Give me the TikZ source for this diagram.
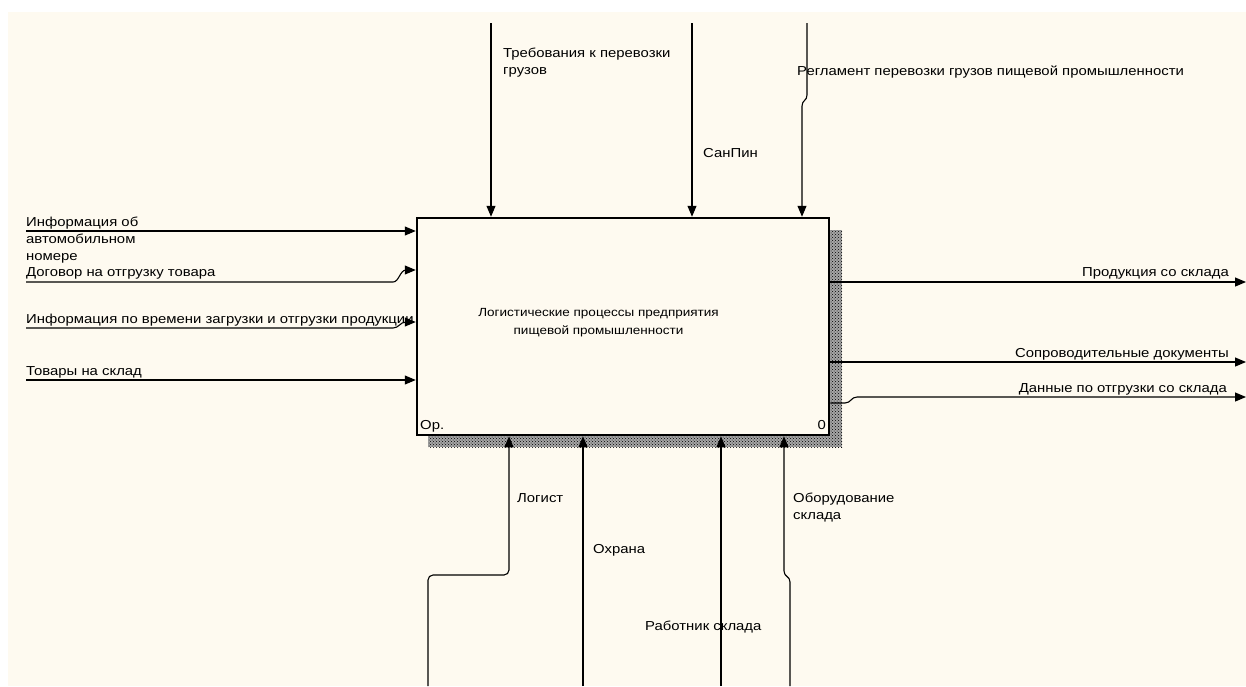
\documentclass[tikz,border=0pt]{standalone}
\usepackage{fontspec}
\setmainfont{Liberation Sans}[FakeStretch=1.145]
\usetikzlibrary{arrows.meta,patterns}
\definecolor{paper}{RGB}{254,250,240}
\begin{document}
\begin{tikzpicture}[x=1pt,y=-1pt,
  font=\fontsize{13}{15}\selectfont,
  flow/.style={line width=1.1pt,-{Triangle[length=11pt,width=9pt]}},
  lbl/.style={inner sep=0pt,anchor=base west},
  rlbl/.style={inner sep=0pt,anchor=base east},
  clbl/.style={inner sep=0pt,anchor=base,font=\fontsize{11.8}{14}\selectfont},
  shadow/.style={fill=black!35,postaction={pattern=crosshatch dots,pattern color=black}}]
\useasboundingbox (0,0) rectangle (1246,686);
\fill[white] (0,0) rectangle (1246,686);
\fill[paper] (8,12) rectangle (1246,686);

% hatched shadow of the activity box
\fill[shadow] (829,230) rectangle (842,447);
\fill[shadow] (428,435) rectangle (842,447);

% activity box
\node[draw,line width=2.5pt,fill=paper,minimum width=412pt,minimum height=217pt,inner sep=0pt] (act) at (623,326.5) {};
\node[clbl] (actt1) at (598.5,316) {Логистические процессы предприятия};
\node[clbl] (actt2) at (598.5,334) {пищевой промышленности};
\node[lbl] (actno) at (420,429) {Ор.};
\node[rlbl] (actid) at (826,429) {0};

% controls
\coordinate (c1s) at (491,23);
\draw[flow] (c1s) -- (c1s |- act.north);
\node[lbl] (c1t1) at (503,57) {Требования к перевозки};
\node[lbl] (c1t2) at (503,74) {грузов};

\coordinate (c2s) at (692,23);
\draw[flow] (c2s) -- (c2s |- act.north);
\node[lbl] (c2t) at (703,157) {СанПин};

\coordinate (c3s) at (807,23);
\coordinate (c3e) at (802,0);
\draw[flow] (c3s) -- (807,95) .. controls (807,101) and (802,100) .. (802,106) -- (c3e |- act.north);
\node[lbl] (c3t) at (797,75) {Регламент перевозки грузов пищевой промышленности};

% inputs
\coordinate (i1s) at (26,231);
\draw[flow] (i1s) -- (i1s -| act.west);
\node[lbl] (i1t1) at (26,226) {Информация об};
\node[lbl] (i1t2) at (26,243) {автомобильном};
\node[lbl] (i1t3) at (26,260) {номере};

\coordinate (i2s) at (26,282);
\coordinate (i2e) at (0,270);
\draw[flow] (i2s) -- (393,282) .. controls (399,282) and (400,270) .. (406,270) -- (i2e -| act.west);
\node[lbl] (i2t) at (26,276) {Договор на отгрузку товара};

\coordinate (i3s) at (26,328);
\coordinate (i3e) at (0,322);
\draw[flow] (i3s) -- (393,328) .. controls (399,328) and (400,322) .. (406,322) -- (i3e -| act.west);
\node[lbl] (i3t) at (26,323) {Информация по времени загрузки и отгрузки продукции};

\coordinate (i4s) at (26,380);
\draw[flow] (i4s) -- (i4s -| act.west);
\node[lbl] (i4t) at (26,375.5) {Товары на склад};

% outputs
\coordinate (o1e) at (1246,282);
\draw[flow] (o1e -| act.east) -- (o1e);
\node[rlbl] (o1t) at (1229,276) {Продукция со склада};

\coordinate (o2e) at (1246,362);
\draw[flow] (o2e -| act.east) -- (o2e);
\node[rlbl] (o2t) at (1229,357) {Сопроводительные документы};

\coordinate (o3s) at (0,403);
\coordinate (o3e) at (1246,397);
\draw[flow] (o3s -| act.east) -- (845,403) .. controls (851,403) and (851,397) .. (857,397) -- (o3e);
\node[rlbl] (o3t) at (1227,392) {Данные по отгрузки со склада};

% mechanisms
\coordinate (m1s) at (428,686);
\coordinate (m1e) at (509,0);
\draw[flow,rounded corners=5pt] (m1s) -- (428,575) -- (509,575) -- (m1e |- act.south);
\node[lbl] (m1t) at (517,502) {Логист};

\coordinate (m2s) at (583,686);
\draw[flow] (m2s) -- (m2s |- act.south);
\node[lbl] (m2t) at (593,553) {Охрана};

\coordinate (m3s) at (721,686);
\draw[flow] (m3s) -- (m3s |- act.south);
\node[lbl] (m3t) at (645,630) {Работник склада};

\coordinate (m4s) at (790,686);
\coordinate (m4e) at (784,0);
\draw[flow] (m4s) -- (790,582) .. controls (790,576) and (784,577) .. (784,571) -- (m4e |- act.south);
\node[lbl] (m4t1) at (793,502) {Оборудование};
\node[lbl] (m4t2) at (793,519) {склада};
\end{tikzpicture}
\end{document}
